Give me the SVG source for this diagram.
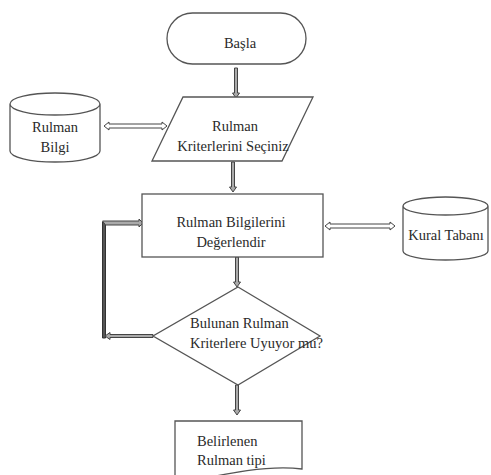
<svg xmlns="http://www.w3.org/2000/svg" width="491" height="475" viewBox="0 0 491 475">
<style>
.s{fill:#fff;stroke:#555;stroke-width:1.3}
.t{font-family:"Liberation Serif","DejaVu Serif",serif;font-size:14.5px;fill:#2a2a2a}
.a{fill:#aaa;stroke:#444;stroke-width:1}
.h{fill:#fff;stroke:#444;stroke-width:1}
.fb{fill:#555;stroke:#333;stroke-width:1}
</style>
<rect width="491" height="475" fill="#fff"/>
<g id="connectors">
<path class="a" d="M234.5,68 h3 v25 h2 l-3.5,5 l-3.5,-5 h2 z"/>
<path class="a" d="M231.5,162 h3 v25 h2 l-3.5,5 l-3.5,-5 h2 z"/>
<path class="a" d="M235.5,257 h3 v25 h2 l-3.5,5 l-3.5,-5 h2 z"/>
<path class="a" d="M235.5,385 h3 v25 h2 l-3.5,5 l-3.5,-5 h2 z"/>
<path class="h" d="M104,126 l5,-4 v2 h53 v-2 l5,4 l-5,4 v-2 h-53 v2 z"/>
<path class="h" d="M325,226 l5,-4 v2 h60 v-2 l5,4 l-5,4 v-2 h-60 v2 z"/>
<path class="fb" d="M102.5,338 V222 h3 v116 z"/>
<path class="a" d="M102.5,221 h36.5 v-2 l4,4 l-4,4 v-2 h-33.5 z"/>
<path class="a" d="M153,334.5 v3 h-43 v2 l-5,-3.5 l5,-3.5 v2 z"/>
</g>
<g id="start">
<rect class="s" x="167" y="13" width="139" height="51" rx="25.5"/>
<text class="t" x="240" y="48" text-anchor="middle">Başla</text>
</g>
<g id="input">
<polygon class="s" points="183,97 313,97 282,161 152,161"/>
<text class="t" x="235" y="131" text-anchor="middle">Rulman</text>
<text class="t" x="233" y="151" text-anchor="middle">Kriterlerini Seçiniz</text>
</g>
<g id="rulman-bilgi">
<path class="s" d="M10,104 V151 A45,11 0 0 0 100,151 V104 A45,11 0 0 0 10,104 A45,11 0 0 0 100,104"/>
<text class="t" x="55" y="132" text-anchor="middle">Rulman</text>
<text class="t" x="55" y="152" text-anchor="middle">Bilgi</text>
</g>
<g id="evaluate">
<rect class="s" x="142" y="194" width="181" height="63"/>
<text class="t" x="231" y="227" text-anchor="middle">Rulman Bilgilerini</text>
<text class="t" x="231" y="247" text-anchor="middle">Değerlendir</text>
</g>
<g id="kural-tabani">
<path class="s" d="M403,206 V251 A42.5,9 0 0 0 488,251 V206 A42.5,9 0 0 0 403,206 A42.5,9 0 0 0 488,206"/>
<text class="t" x="446" y="240" text-anchor="middle">Kural Tabanı</text>
</g>
<g id="decision">
<polygon class="s" points="238,287 320,336 238,385 153,336"/>
<text class="t" x="190" y="328">Bulunan Rulman</text>
<text class="t" x="190" y="348">Kriterlere Uyuyor mu?</text>
</g>
<g id="output">
<path class="s" d="M175,485 V421 H302 V469 C270,465 230,472 175,485"/>
<text class="t" x="197" y="446">Belirlenen</text>
<text class="t" x="197" y="465">Rulman tipi</text>
</g>
</svg>
